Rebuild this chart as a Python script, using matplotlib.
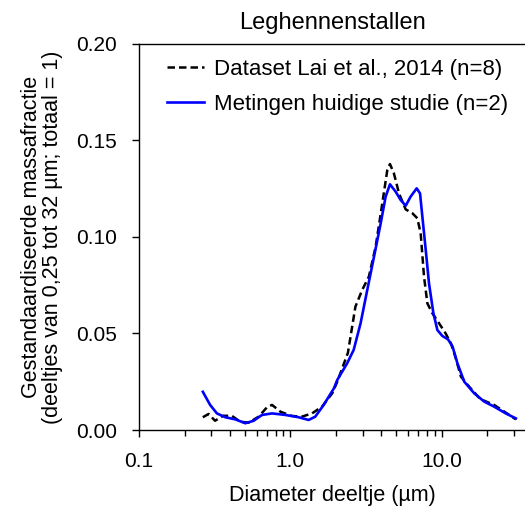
import matplotlib
matplotlib.use("Agg")
import matplotlib.pyplot as plt
from matplotlib.ticker import FixedLocator, LogLocator, NullFormatter, FixedFormatter

plt.rcParams['font.family'] = ['Liberation Sans', 'DejaVu Sans']

# Dataset Lai et al., 2014 (n=8)
lai_d = [0.264, 0.288, 0.318, 0.361, 0.411, 0.467, 0.530, 0.617, 0.701, 0.757,
         0.859, 1.02, 1.19, 1.39, 1.62, 1.89, 2.04, 2.40, 2.69, 2.98, 3.30,
         3.66, 4.05, 4.37, 4.55, 4.83, 5.22, 5.78, 6.40, 6.90, 7.26, 7.64,
         8.04, 8.67, 9.60, 10.6, 11.5, 12.3, 13.4, 15.2, 18.0, 22.2, 26.5, 30.9]
lai_f = [0.0066, 0.0083, 0.0048, 0.0074, 0.0073, 0.0043, 0.0038, 0.0069, 0.0118,
         0.0130, 0.0095, 0.0073, 0.0069, 0.0086, 0.0121, 0.0190, 0.0250, 0.0400,
         0.0639, 0.0725, 0.0794, 0.0950, 0.1175, 0.1347, 0.1378, 0.1330, 0.1226,
         0.1143, 0.1123, 0.1097, 0.1019, 0.0794, 0.0656, 0.0605, 0.0553, 0.0501,
         0.0449, 0.0380, 0.0276, 0.0224, 0.0160, 0.0130, 0.0090, 0.0055]

# Metingen huidige studie (n=2)
own_d = [0.264, 0.295, 0.327, 0.372, 0.433, 0.504, 0.572, 0.650, 0.757, 0.927,
         1.135, 1.32, 1.46, 1.66, 1.94, 2.04, 2.37, 2.62, 2.91, 3.22, 3.57,
         3.95, 4.26, 4.55, 4.96, 5.35, 5.78, 6.23, 6.83, 7.19, 7.45, 7.84,
         8.24, 8.81, 9.36, 10.1, 11.0, 11.8, 12.7, 14.1, 16.4, 19.1, 22.2,
         26.5, 30.9]
own_f = [0.0198, 0.0130, 0.0086, 0.0066, 0.0055, 0.0035, 0.0048, 0.0078, 0.0086,
         0.0078, 0.0066, 0.0052, 0.0069, 0.0130, 0.0216, 0.0259, 0.0345, 0.0415,
         0.0553, 0.0725, 0.0898, 0.1070, 0.1209, 0.1273, 0.1235, 0.1192, 0.1162,
         0.1209, 0.1252, 0.1226, 0.1105, 0.0933, 0.0760, 0.0605, 0.0518, 0.0487,
         0.0470, 0.0432, 0.0345, 0.0250, 0.0190, 0.0147, 0.0121, 0.0086, 0.0060]

x_ticks = [0.1, 1.0, 10.0]
x_tick_labels = ["0.1", "1.0", "10.0"]
y_ticks = [0.00, 0.05, 0.10, 0.15, 0.20]
y_tick_labels = ["0.00", "0.05", "0.10", "0.15", "0.20"]

fig = plt.figure(figsize=(5.25, 5.09), dpi=100)
ax = fig.add_axes([0.2648, 0.1552, 0.7352, 0.7584])

ax.plot(lai_d, lai_f, color='black', lw=1.8, linestyle=(0, (3, 1.6)),
        dash_joinstyle='round', label='Dataset Lai et al., 2014 (n=8)')
ax.plot(own_d, own_f, color='#0000ff', lw=1.9, solid_joinstyle='round',
        label='Metingen huidige studie (n=2)')

ax.set_xscale('log')
ax.set_xlim(0.1, 35.5)
ax.set_ylim(0, 0.20)

ax.xaxis.set_major_locator(FixedLocator(x_ticks))
ax.xaxis.set_major_formatter(FixedFormatter(x_tick_labels))
ax.xaxis.set_minor_locator(LogLocator(base=10, subs=range(2, 10)))
ax.xaxis.set_minor_formatter(NullFormatter())
ax.yaxis.set_major_locator(FixedLocator(y_ticks))
ax.yaxis.set_major_formatter(FixedFormatter(y_tick_labels))

ax.spines['right'].set_visible(False)
for s in ('left', 'bottom', 'top'):
    ax.spines[s].set_linewidth(1.0)

ax.tick_params(axis='both', which='major', direction='out', length=5, width=1.0,
               labelsize=15, pad=11)
ax.tick_params(axis='x', which='minor', direction='out', length=4, width=1.0)
ax.tick_params(top=False, right=False)

ax.set_xlabel('Diameter deeltje (µm)', fontsize=15.5, labelpad=10)
ax.set_ylabel('Gestandaardiseerde massafractie\n(deeltjes van 0,25 tot 32 µm; totaal = 1)',
              fontsize=15.5, labelpad=9, linespacing=1.0)
ax.set_title('Leghennenstallen', fontsize=17, pad=11)

leg = ax.legend(loc='upper left', bbox_to_anchor=(0.050, 0.985), frameon=False,
                fontsize=16, handlelength=1.65, handletextpad=0.45,
                labelspacing=0.65, borderaxespad=0.0)

fig.savefig('out.png', dpi=100)
